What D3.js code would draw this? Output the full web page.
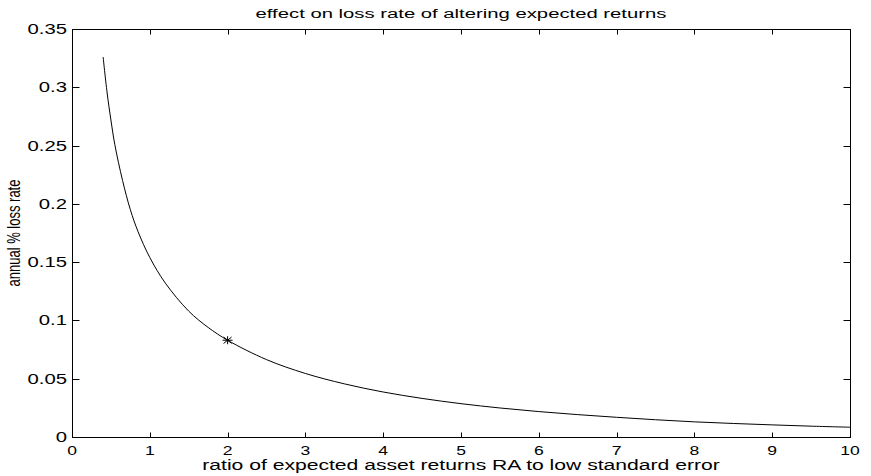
<!DOCTYPE html>
<html>
<head>
<meta charset="utf-8">
<script src="https://cdn.jsdelivr.net/npm/d3@7"></script>
<style>
  html, body { margin: 0; padding: 0; background: #fff; }
  svg { display: block; }
  text { font-family: "Liberation Sans", Arial, Helvetica, sans-serif; fill: #000; }
</style>
</head>
<body>
<svg id="chart" width="871" height="476"></svg>
<script>
// Loss rate as a function of the return / standard-error ratio
const ratio = [0.4, 0.45, 0.5, 0.55, 0.65, 0.75, 0.85, 1.0, 1.2, 1.5, 1.75, 2.0, 2.5, 3.0, 3.5,
               4.0, 4.5, 5.0, 5.5, 6.0, 6.5, 7.0, 7.5, 8.0, 8.5, 9.0, 9.5, 10.0];
const lossRate = [0.326, 0.296, 0.272, 0.251, 0.220, 0.195, 0.176, 0.154, 0.132, 0.108, 0.094, 0.083,
                  0.0664, 0.0545, 0.0456, 0.0386, 0.0331, 0.0286, 0.0249, 0.0218, 0.0192, 0.0169,
                  0.0148, 0.0130, 0.0116, 0.0104, 0.0093, 0.0084];

// Highlighted operating point
const markerX = [2];
const markerY = [0.083];

// Axis ticks
const xTicks = [0, 1, 2, 3, 4, 5, 6, 7, 8, 9, 10];
const yTicks = [0, 0.05, 0.1, 0.15, 0.2, 0.25, 0.3, 0.35];

const titleText = "effect on loss rate of altering expected returns";
const xLabelText = "ratio of expected asset returns RA to low standard error";
const yLabelText = "annual % loss rate";

const svg = d3.select("#chart");
const margin = { left: 72, right: 21, top: 29, bottom: 39 };
const W = 871, H = 476;
const x0 = margin.left, x1 = W - margin.right;
const y0 = H - margin.bottom, y1 = margin.top;

const x = d3.scaleLinear().domain([0, 10]).range([x0, x1]);
const y = d3.scaleLinear().domain([0, 0.35]).range([y0, y1]);

// Axes box with inward ticks on all four sides
const g = svg.append("g");

function crisp(v) { return Math.round(v) + 0.5; }

const tickLenX = 5, tickLenY = 7;
const tickG = g.append("g").attr("stroke", "#000").attr("stroke-width", 1);
xTicks.forEach(t => {
  const px = crisp(x(t));
  tickG.append("line").attr("x1", px).attr("x2", px).attr("y1", crisp(y0)).attr("y2", crisp(y0) - tickLenX);
  tickG.append("line").attr("x1", px).attr("x2", px).attr("y1", crisp(y1)).attr("y2", crisp(y1) + tickLenX);
});
yTicks.forEach(t => {
  const py = crisp(y(t));
  tickG.append("line").attr("x1", crisp(x0)).attr("x2", crisp(x0) + tickLenY).attr("y1", py).attr("y2", py);
  tickG.append("line").attr("x1", crisp(x1)).attr("x2", crisp(x1) - tickLenY).attr("y1", py).attr("y2", py);
});

g.append("rect")
  .attr("x", crisp(x0)).attr("y", crisp(y1))
  .attr("width", crisp(x1) - crisp(x0)).attr("height", crisp(y0) - crisp(y1))
  .attr("fill", "none").attr("stroke", "#000").attr("stroke-width", 1);

// Tick labels (drawn a little wide)
const fmtY = d => d === 0 ? "0" : String(+d.toFixed(2));
g.append("g").selectAll("text").data(xTicks).join("text")
  .attr("transform", d => `translate(${x(d)},455) scale(1.3,1)`)
  .attr("text-anchor", "middle")
  .attr("font-size", 13.5)
  .text(d => d);

g.append("g").selectAll("text").data(yTicks).join("text")
  .attr("transform", d => `translate(67,${y(d)}) scale(1.45,1)`)
  .attr("text-anchor", "end")
  .attr("dy", "0.36em")
  .attr("font-size", 14)
  .text(fmtY);

// Title and axis labels
svg.append("text")
  .attr("transform", `translate(${(x0 + x1) / 2},18) scale(1.48,1)`)
  .attr("text-anchor", "middle")
  .attr("font-size", 13.7)
  .text(titleText);

svg.append("text")
  .attr("transform", `translate(${(x0 + x1) / 2},470) scale(1.51,1)`)
  .attr("text-anchor", "middle")
  .attr("font-size", 14)
  .text(xLabelText);

svg.append("text")
  .attr("transform", `translate(20,${(y0 + y1) / 2}) scale(1.45,1) rotate(-90)`)
  .attr("text-anchor", "middle")
  .attr("font-size", 13)
  .text(yLabelText);

// Curve
const pts = ratio.map((r, i) => [r, lossRate[i]]);
const line = d3.line().x(d => x(d[0])).y(d => y(d[1])).curve(d3.curveCatmullRom.alpha(0.5));
svg.append("path")
  .attr("d", line(pts))
  .attr("fill", "none")
  .attr("stroke", "#000")
  .attr("stroke-width", 1);

// Asterisk marker
const mk = svg.append("g").attr("stroke", "#000").attr("stroke-width", 1);
markerX.forEach((mx, i) => {
  const cx = x(mx), cy = y(markerY[i]);
  const rx = 5, ry = 4;
  mk.append("line").attr("x1", cx - rx).attr("x2", cx + rx).attr("y1", cy).attr("y2", cy);
  mk.append("line").attr("x1", cx).attr("x2", cx).attr("y1", cy - ry).attr("y2", cy + ry);
  mk.append("line").attr("x1", cx - rx * 0.8).attr("x2", cx + rx * 0.8).attr("y1", cy - ry * 0.8).attr("y2", cy + ry * 0.8);
  mk.append("line").attr("x1", cx - rx * 0.8).attr("x2", cx + rx * 0.8).attr("y1", cy + ry * 0.8).attr("y2", cy - ry * 0.8);
});
</script>
</body>
</html>
